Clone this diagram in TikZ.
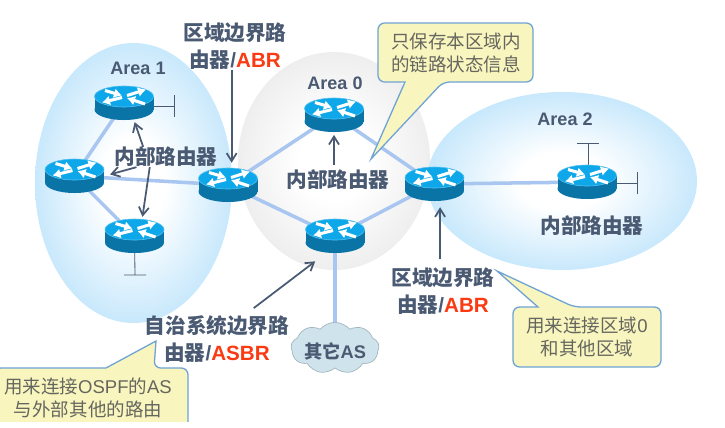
\documentclass[tikz,border=0pt]{standalone}
\usepackage{fontspec}
\usepackage{xcolor}
\usetikzlibrary{
    arrows.meta,
    shapes.geometric,
    shapes.symbols,
    calc
}
\setmainfont{Liberation Sans}
\newfontfamily\cjk{Noto Sans CJK SC}
\newcommand{\zh}[1]{{\cjk #1}}
\newcommand{\hot}[1]{\textcolor{hotred}{#1}}
\definecolor{hotred}{HTML}{FA3A12}
\definecolor{slategrey}{HTML}{4A5A72}
\definecolor{linkblue}{HTML}{A8C6F0}
\definecolor{areablue}{HTML}{A6DAFA}
\definecolor{areagrey}{HTML}{DCDCDC}
\definecolor{notefill}{HTML}{F8F6BE}
\definecolor{noteline}{HTML}{6EA3D4}
\definecolor{notetext}{HTML}{666660}
\definecolor{routertop}{HTML}{0EA8EA}
\definecolor{routerside}{HTML}{0A74A6}
\definecolor{cloudfill}{HTML}{CFE3EC}
\definecolor{cloudline}{HTML}{A3B6BE}
\pgfdeclareradialshading{areablueshade}{\pgfpoint{0bp}{0bp}}{color(0bp)=(white); color(8bp)=(white); color(24bp)=(areablue!58!white); color(36bp)=(areablue); color(100bp)=(areablue)}
\pgfdeclareradialshading{areagreyshade}{\pgfpoint{0bp}{0bp}}{color(0bp)=(white); color(9bp)=(white); color(24bp)=(areagrey!45!white); color(36bp)=(areagrey); color(100bp)=(areagrey)}
\tikzset{
    routerbox/.style={minimum width=17.7mm, minimum height=10.2mm, inner sep=0},
    link/.style={linkblue, line width=3pt},
    stub/.style={slategrey, line width=0.7pt},
    pointer/.style={slategrey, line width=1.5pt, -{Straight Barb[length=2.4mm, width=3mm]}},
    biglabel/.style={font=\bfseries\fontsize{17.6}{23}\selectfont, text=slategrey, align=center, inner sep=0},
    arealabel/.style={font=\bfseries\fontsize{15.4}{18}\selectfont, text=slategrey, inner sep=0},
    notebox/.style={draw=noteline, fill=notefill, line width=1.1pt},
    notelabel/.style={font=\fontsize{15.8}{19.6}\selectfont, text=notetext, align=center, inner sep=0},
    router/.pic={
        \fill[routerside] (0,6.5) ellipse [x radius=29.5, y radius=10.5];
        \fill[routerside] (-29.5,-6.5) rectangle (29.5,6.5);
        \draw[routertop!70!white, fill=routertop, line width=0.5pt] (0,-6.5) ellipse [x radius=29.5, y radius=10.5];
        \foreach \xa/\ya/\xb/\yb in {-19/-12.5/-2/-7.5, 3/-7.5/22/-13.5, -2/-5.5/-22/-0.5, 21/1/3/-5}
            \draw[white, line width=2.6pt, -{Latex[length=2.4mm, width=3mm]}] (\xa, \ya) -- (\xb, \yb);
    }
}
\begin{document}
\begin{tikzpicture}[x=0.3mm, y=-0.3mm]
    \useasboundingbox (0, 0) rectangle (725, 427);
    \shade[shading=areablueshade] (133.5, 183) ellipse [x radius=98.5, y radius=140];
    \shade[shading=areagreyshade] (334, 161) ellipse [x radius=96, y radius=109];
    \shade[shading=areablueshade] (562, 181) ellipse [x radius=135, y radius=89];
    \foreach \name/\x/\y in {r1/124/103, r2/74.5/176, r3/134.5/236, r4/228/185, r5/334/115, r6/434.5/184, r7/335/236, r8/587/182}
        \node[routerbox] (\name) at (\x, \y) {};
    \node[cloud, cloud puffs=9, cloud puff arc=100, aspect=1.7, draw=cloudline, fill=cloudfill, line width=0.6pt,
        minimum width=26.4mm, minimum height=15.4mm, inner sep=0] (otheras) at (335, 348) {};
    \draw[link] (r1.center) -- (r2.center);
    \draw[link] (r2.center) -- (r3.center);
    \draw[link] (r2.center) -- (r4.center);
    \draw[link] (r4.center) -- (r5.center);
    \draw[link] (r4.center) -- (r7.center);
    \draw[link] (r5.center) -- (r6.center);
    \draw[link] (r7.center) -- (r6.center);
    \draw[link] (r6.center) -- (r8.center);
    \draw[link] (r7.center) -- (otheras.north);
    \coordinate (end1) at (174, 106);
    \coordinate (end3) at (135, 275);
    \coordinate (end8a) at (588, 143);
    \coordinate (end8b) at (637, 183);
    \draw[stub] (r1.center |- end1) -- (end1) ++(0, -11) -- ++(0, 22);
    \draw[stub] (r3.center) -- (end3) ++(-11, 0) -- ++(22, 0);
    \draw[stub] (end8a |- r8.center) -- (end8a) ++(-11, 0) -- ++(22, 0);
    \draw[stub] (r8.center |- end8b) -- (end8b) ++(0, -11) -- ++(0, 22);
    \foreach \name in {r1, r2, r3, r4, r5, r6, r7, r8}
        \pic at (\name) {router};
    \node[arealabel] at (138, 68) {Area 1};
    \node[arealabel] at (335, 83) {Area 0};
    \node[arealabel] at (565, 119) {Area 2};
    \node[biglabel] (inner1) at (166, 157) {\zh{内部路由器}};
    \node[biglabel] (inner0) at (338, 180) {\zh{内部路由器}};
    \node[biglabel] (inner2) at (592, 226) {\zh{内部路由器}};
    \node[biglabel] (abr1) at (235, 46) {\zh{区域边界路}\\\zh{由器}/\hot{ABR}};
    \node[biglabel] (abr2) at (443, 291) {\zh{区域边界路}\\\zh{由器}/\hot{ABR}};
    \node[biglabel] (asbr) at (217, 339) {\zh{自治系统边界路}\\\zh{由器}/\hot{ASBR}};
    \node[font=\bfseries\fontsize{15.6}{18}\selectfont, text=slategrey, inner sep=0] (aslabel) at (335, 351) {\zh{其它}AS};
    \draw[pointer, shorten >=1.5mm] (abr1.south -| r4.78) -- (r4.78 |- r4.north);
    \draw[pointer, shorten >=0.6mm] (inner1.156) -- (r1.300);
    \draw[pointer, shorten >=1.8mm] (inner1.199) -- (r2.east);
    \draw[pointer, shorten >=0.6mm] (inner1.212) -- (r3.66);
    \draw[pointer, shorten <=1.5mm, shorten >=0.8mm] (inner0.north -| r5.south) -- (r5.south);
    \draw[pointer, shorten <=2.4mm, shorten >=1.8mm] (abr2.north -| r6.288) -- (r6.288);
    \draw[pointer, shorten <=3.6mm, shorten >=4mm] (asbr.41) -- (r7.242);
    \draw[notebox] (405, 82) [rounded corners=2mm] -- (378, 82) -- (378, 23) -- (533, 23) -- (533, 82) -- (443, 82) [sharp corners] -- (371, 159) -- cycle;
    \draw[notebox] (538, 307) [rounded corners=2mm] -- (513, 307) -- (513, 367) -- (661, 367) -- (661, 307) -- (574, 307) [sharp corners] -- (497, 271) -- cycle;
    \begin{scope}
        \clip (0, 0) rectangle (725, 421);
        \draw[notebox] (106, 368) [rounded corners=2mm] -- (-6, 368) -- (-6, 440) -- (188, 440) -- (188, 368) -- (154, 368) [sharp corners] -- (156, 341) -- cycle;
    \end{scope}
    \node[notelabel] (note0) at (456, 53) {\zh{只保存本区域内}\\\zh{的链路状态信息}};
    \node[notelabel] (note2) at (587, 337) {\zh{用来连接区域}0\\\zh{和其他区域}};
    \node[notelabel] (noteas) at (88, 398) {\zh{用来连接}OSPF\zh{的}AS\\\zh{与外部其他的路由}};
\end{tikzpicture}
\end{document}
